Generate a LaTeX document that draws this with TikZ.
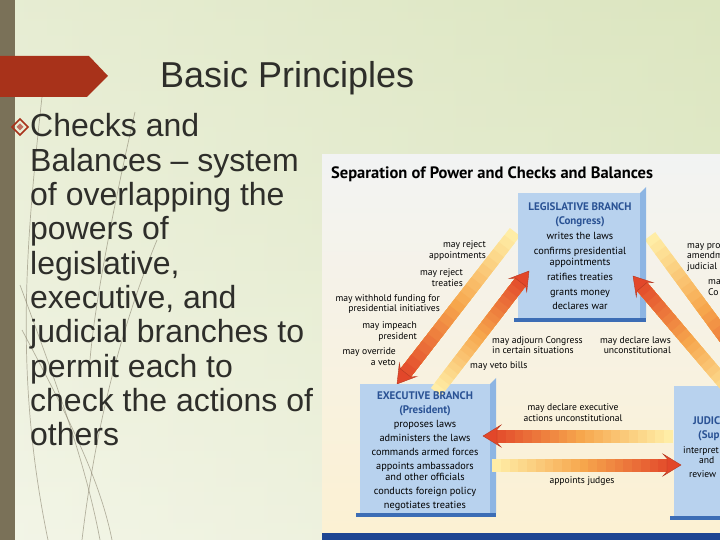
\documentclass[tikz,border=0pt]{standalone}
\usepackage{fontspec}
\setmainfont{Liberation Sans}
\newfontfamily\diagfont{PT Sans}
\usetikzlibrary{calc,positioning}

\definecolor{bgl}{HTML}{F3F5E7}
\definecolor{bgr}{HTML}{DCE6C0}
\definecolor{stripc}{HTML}{7A7158}
\definecolor{bannerc}{HTML}{A8321A}
\definecolor{decoc}{HTML}{8A8470}
\definecolor{bodyc}{HTML}{2E2E2A}
\definecolor{paneltop}{HTML}{F2F3F3}
\definecolor{panelbot}{HTML}{FCF1D2}
\definecolor{boxc}{HTML}{B8D2EE}
\definecolor{bevelc}{HTML}{8DB5E3}
\definecolor{edgec}{HTML}{3C6DB5}
\definecolor{titleblue}{HTML}{2A5294}
\definecolor{barc}{HTML}{1E4592}
\definecolor{tailc}{HTML}{FFEDA6}
\definecolor{midc}{HTML}{F6A64C}
\definecolor{headc}{HTML}{E2472A}

\newcommand{\brhead}[1]{{\color{titleblue}\bfseries\fontsize{11}{11}\selectfont #1}}

% wide shaded arrow, from #1 to #2
\newcommand{\fatarrow}[2]{%
  \coordinate (fa-h) at ($(#2)!14pt!(#1)$);
  \coordinate (fa-b) at ($(#2)!18pt!(#1)$);
  \foreach \k in {0,...,19}{%
    \ifnum\k<10 \pgfmathtruncatemacro\pc{100-10*\k}\def\fc{tailc!\pc!midc}%
    \else \pgfmathtruncatemacro\pc{200-10*\k}\def\fc{midc!\pc!headc}\fi
    \draw[line width=13pt, color=\fc] ($(#1)!\k/20!(fa-h)$) -- (fa-h);
  }
  \fill[headc, draw=headc!80!black, line width=0.4pt] ($(fa-h)!6.5pt!90:(#2)$) -- ($(fa-b)!11pt!90:(#2)$) -- (#2)
    -- ($(fa-b)!11pt!-90:(#2)$) -- ($(fa-h)!6.5pt!-90:(#2)$) -- cycle;
}

\begin{document}
\begin{tikzpicture}[x=1pt, y=-1pt,
  deco/.style={draw=decoc, line width=0.7pt, opacity=0.6},
  body/.style={anchor=base west, inner sep=0pt, text=bodyc, font=\fontsize{32}{34}\selectfont},
  lbl/.style={inner sep=0pt, font=\diagfont\fontsize{9.6}{10.6}\selectfont},
  face/.style={fill=boxc, inner sep=0pt},
  boxtext/.style={inner sep=0pt, align=center, font=\diagfont\fontsize{10.3}{11}\selectfont},
  hd/.style={text=titleblue, font=\diagfont\bfseries\fontsize{11}{12}\selectfont}]
\useasboundingbox (0,0) rectangle (720,540);
\clip (0,0) rectangle (720,540);

% slide
\shade[left color=bgl, right color=bgr] (0,0) rectangle (720,540);
\shade[top color=bgr, bottom color=bgl, opacity=0.5] (0,0) rectangle (720,540);
\fill[stripc] (0,0) rectangle (15,540);
\draw[deco] (42,97) .. controls (25,250) and (15,380) .. (48,540);
\draw[deco] (157,240) .. controls (120,330) and (95,430) .. (82,540);
\draw[deco] (20,285) .. controls (55,380) and (85,460) .. (100,540);
\draw[deco] (135,112) .. controls (115,200) and (95,300) .. (90,360);
\draw[deco] (22,330) .. controls (70,420) and (100,480) .. (112,540);
\fill[bannerc] (0,56) -- (89,56) -- (108,76) -- (87,97) -- (0,97) -- cycle;
\node[anchor=base west, inner sep=0pt, text=bodyc, font=\fontsize{36}{40}\selectfont] (title) at (160,88) {Basic Principles};

% bullet
\draw[bannerc, line width=1.5pt] (20,119) -- (28,127) -- (20,135) -- (12,127) -- cycle;
\fill[bannerc!70] (20,123.5) -- (23.5,127) -- (20,130.5) -- (16.5,127) -- cycle;
\foreach \t [count=\i from 0] in {Checks and, Balances -- system, of overlapping the, powers of,
  {legislative,}, {executive, and}, judicial branches to, permit each to,
  check the actions of, others}
  \node[body] (b\i) at (30,137+34.3*\i) {\t};

% diagram panel
\shade[top color=paneltop, bottom color=panelbot] (322,155) rectangle (720,540);
\node[anchor=base west, inner sep=0pt, font=\diagfont\bfseries\fontsize{16.5}{18}\selectfont] (head) at (331,179)
  {Separation of Power and Checks and Balances};

% arrows behind the boxes
\coordinate (lo1) at (515,232); \coordinate (lo2) at (397,384);
\coordinate (ro1) at (650,236); \coordinate (ro2) at (762,388);
\fatarrow{lo1}{lo2}
\fatarrow{ro1}{ro2}

% branches
\node[face, minimum width=122pt, minimum height=125pt] (leg) at (579,255.5) {};
\fill[bevelc] (leg.north east) -- ++(6,-6) -- ($(leg.south east)+(6,0)$) -- (leg.south east) -- cycle;
\fill[edgec] ($(leg.south west)+(-4,0)$) -- ($(leg.south east)+(6,0)$) -- ++(0,4) -- ($(leg.south west)+(-4,4)$) -- cycle;
\node[face, minimum width=130pt, minimum height=129pt] (exe) at (425,448.5) {};
\fill[bevelc] (exe.north east) -- ++(6,-6) -- ($(exe.south east)+(6,0)$) -- (exe.south east) -- cycle;
\fill[edgec] ($(exe.south west)+(-4,0)$) -- ($(exe.south east)+(6,0)$) -- ++(0,4) -- ($(exe.south west)+(-4,4)$) -- cycle;
\node[face, minimum width=60pt, minimum height=130pt] (jud) at (704,451) {};
\fill[edgec] ($(jud.south west)+(-4,0)$) -- ($(jud.south east)$) -- ++(0,4) -- ($(jud.south west)+(-4,4)$) -- cycle;

% arrows in front of the boxes
\coordinate (li1) at (436,392); \coordinate (li2) at (529,271);
\coordinate (ri1) at (740,402); \coordinate (ri2) at (633,276);
\fatarrow{li1}{li2}
\fatarrow{ri1}{ri2}

\node[boxtext, anchor=north] (legtxt) at (580,202.5) {%
  \brhead{LEGISLATIVE BRANCH}\\[3pt] \brhead{(Congress)}\\[4pt]
  writes the laws\\[4pt] confirms presidential\\ appointments\\[4pt]
  ratifies treaties\\[4pt] grants money\\[3pt] declares war};
\node[boxtext, anchor=north] (exetxt) at (425,391.5) {%
  \brhead{EXECUTIVE BRANCH}\\[3pt] \brhead{(President)}\\[3pt]
  proposes laws\\[3pt] administers the laws\\[3pt] commands armed forces\\[3pt]
  appoints ambassadors\\ and other officials\\[3pt] conducts foreign policy\\[3pt]
  negotiates treaties};
\node[hd, inner sep=0pt, anchor=west] (jud1) at (693,421) {JUDIC};
\node[hd, inner sep=0pt, anchor=west] (jud2) at (698,436) {(Sup};
\node[lbl, anchor=west] (jud3) at (683,451) {interpret};
\node[lbl, anchor=west] (jud4) at (699,460) {and};
\node[lbl, anchor=west] (jud5) at (689,474) {review};

% arrows between executive and judicial
\coordinate (hu1) at (673,436); \coordinate (hu2) at (483,436);
\coordinate (hl1) at (492,465); \coordinate (hl2) at (681,465);
\fatarrow{hu1}{hu2}
\fatarrow{hl1}{hl2}

% checks
\node[lbl, anchor=east, align=right] (c1) at (486,250.5) {may reject\\appointments};
\node[lbl, anchor=east, align=right] (c2) at (463,277.5) {may reject\\treaties};
\node[lbl, anchor=east, align=right] (c3) at (440,304) {may withhold funding for\\presidential initiatives};
\node[lbl, anchor=east, align=right] (c4) at (417,331.5) {may impeach\\president};
\node[lbl, anchor=east, align=right] (c5) at (396,356.5) {may override\\a veto};
\node[lbl, anchor=west, align=left] (c6) at (492,345) {may adjourn Congress\\in certain situations};
\node[lbl, anchor=west] (c7) at (470,366) {may veto bills};
\node[lbl, anchor=east, align=right] (c8) at (671,345) {may declare laws\\unconstitutional};
\node[lbl, align=center] (c9) at (573,412.5) {may declare executive\\actions unconstitutional};
\node[lbl] (c10) at (582,481) {appoints judges};
\node[lbl, anchor=west, align=left] (c11) at (687,257.5) {may pro\\amendm\\judicial};
\node[lbl, anchor=west, align=left] (c12) at (708,287.5) {ma\\Co};

\fill[barc] (322,533) rectangle (720,540);
\end{tikzpicture}
\end{document}
